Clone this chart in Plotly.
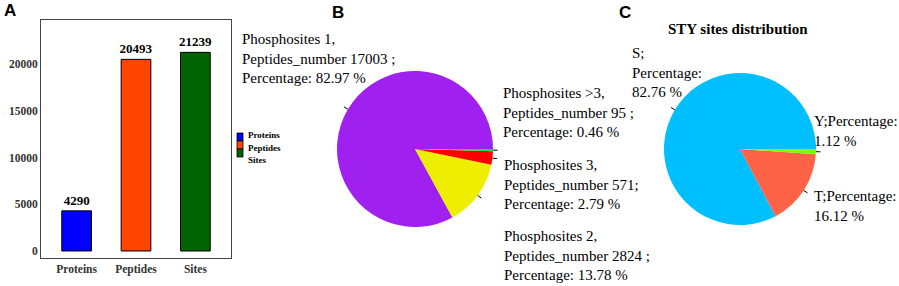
import numpy as np
import plotly.graph_objects as go

W, H = 899, 286

# ---------------- data ----------------
bar_categories = ["Proteins", "Peptides", "Sites"]
bar_values = [4290, 20493, 21239]
bar_colors = ["#0000FF", "#FF4500", "#006400"]
y_ticks = [0, 5000, 10000, 15000, 20000]

b_names = ["Phosphosites 1", "Phosphosites 2", "Phosphosites 3", "Phosphosites >3"]
b_counts = [17003, 2824, 571, 95]
b_percent = [82.97, 13.78, 2.79, 0.46]
b_colors = ["#A020F0", "#EEEE00", "#FF0000", "#22DD22"]
b_sep = [" ;", " ;", ";", " ;"]

c_names = ["S", "T", "Y"]
c_percent = [82.76, 16.12, 1.12]
c_colors = ["#00BFFF", "#FF6347", "#7CFC00"]
c_title = "STY sites distribution"

panel_letters = ["A", "B", "C"]

# ---------------- helpers (pixel -> paper) ----------------
def px(x):
    return x / W

def py(y):
    return 1 - y / H

SERIF = "Liberation Serif"
SANS = "Liberation Sans"

fig = go.Figure()

# ---------------- panel A: bars ----------------
for cat, val, col in zip(bar_categories, bar_values, bar_colors):
    fig.add_trace(go.Bar(
        x=[cat], y=[val], name=cat,
        marker=dict(color=col, line=dict(color="black", width=1)),
        width=0.5,
        text=[str(val)], textposition="outside", constraintext="none",
        textfont=dict(family=SERIF, size=13, color="black", weight="bold"),
        cliponaxis=False, showlegend=False,
        xaxis="x", yaxis="y",
    ))

fig.update_layout(
    barmode="overlay",
    xaxis=dict(domain=[px(41), px(231)], range=[-0.6, 2.6], type="category",
               categoryorder="array", categoryarray=bar_categories,
               showline=True, mirror=True, linecolor="#444", linewidth=1,
               showgrid=False, ticks="", zeroline=False,
               tickfont=dict(family=SERIF, size=11.5, color="#333", weight="bold")),
    yaxis=dict(domain=[py(258), py(20)], range=[-750, 24700],
               tickvals=y_ticks, ticktext=[str(t) for t in y_ticks],
               showline=True, mirror=True, linecolor="#444", linewidth=1,
               showgrid=False, ticks="", zeroline=False,
               tickfont=dict(family=SERIF, size=11.5, color="#333", weight="bold")),
)

shapes = []
annotations = []

# manual legend for panel A
key_top = 133
for i, (cat, col) in enumerate(zip(bar_categories, bar_colors)):
    y0 = key_top + i * 8
    shapes.append(dict(type="rect", xref="paper", yref="paper",
                       x0=px(237), x1=px(243), y0=py(y0), y1=py(y0 + 8),
                       fillcolor=col, line=dict(color="black", width=0.8)))
    annotations.append(dict(text=cat, xref="paper", yref="paper",
                            x=px(246), y=py(135 + i * 12.5), xanchor="left", yanchor="middle",
                            showarrow=False,
                            font=dict(family=SERIF, size=9, color="black", weight="bold")))

# ---------------- pies ----------------
def add_pie(values, colors, cx, cy, r):
    vals = np.asarray(values, dtype=float)
    # first slice starts at 3 o'clock and runs counterclockwise (as in R's pie())
    rot = 90 + 360 * (1 - vals[0] / vals.sum())
    fig.add_trace(go.Pie(
        values=values, sort=False, direction="counterclockwise", rotation=rot,
        marker=dict(colors=colors, line=dict(width=0)),
        textinfo="none", showlegend=False,
        domain=dict(x=[px(cx - r), px(cx + r)], y=[py(cy + r), py(cy - r)]),
    ))
    cum = np.cumsum(vals) - vals / 2
    ang = 2 * np.pi * cum / vals.sum()
    for a in ang:
        x0, y0 = cx + r * np.cos(a), cy - r * np.sin(a)
        x1, y1 = cx + 1.06 * r * np.cos(a), cy - 1.06 * r * np.sin(a)
        shapes.append(dict(type="line", xref="paper", yref="paper",
                           x0=px(x0), y0=py(y0), x1=px(x1), y1=py(y1),
                           line=dict(color="black", width=1)))

B_CX, B_CY, B_R = 415, 149, 78
C_CX, C_CY, C_R = 740, 149, 76
add_pie(b_counts, b_colors, B_CX, B_CY, B_R)
add_pie(c_percent, c_colors, C_CX, C_CY, C_R)

label_font = dict(family=SERIF, size=15, color="black")

b_label_pos = [(240, 58), (502, 255), (502, 184), (501, 112)]
for name, cnt, pct, sep, (lx, ly) in zip(b_names, b_counts, b_percent, b_sep, b_label_pos):
    txt = f"{name},<br>Peptides_number {cnt}{sep}<br>Percentage: {pct:.2f} %"
    annotations.append(dict(text=txt, xref="paper", yref="paper", x=px(lx), y=py(ly),
                            xanchor="left", yanchor="middle", align="left",
                            showarrow=False, font=label_font))

c_label_pos = [(630, 72), (812, 206), (812, 131)]
for i, (name, pct, (lx, ly)) in enumerate(zip(c_names, c_percent, c_label_pos)):
    if i == 0:
        txt = f"{name};<br>Percentage:<br>{pct:.2f} %"
    else:
        txt = f"{name};Percentage:<br>{pct:.2f} %"
    annotations.append(dict(text=txt, xref="paper", yref="paper", x=px(lx), y=py(ly),
                            xanchor="left", yanchor="middle", align="left",
                            showarrow=False, font=label_font))

annotations.append(dict(text=c_title, xref="paper", yref="paper", x=px(738), y=py(29),
                        xanchor="center", yanchor="middle", showarrow=False,
                        font=dict(family=SERIF, size=15, color="black", weight="bold")))

for letter, (lx, ly) in zip(panel_letters, [(2, 11), (330, 12), (617, 12)]):
    annotations.append(dict(text=letter, xref="paper", yref="paper", x=px(lx), y=py(ly),
                            xanchor="left", yanchor="middle", showarrow=False,
                            font=dict(family=SANS, size=17, color="black", weight="bold")))

fig.update_layout(
    width=W, height=H,
    margin=dict(l=0, r=0, t=0, b=0),
    paper_bgcolor="white", plot_bgcolor="white",
    shapes=shapes, annotations=annotations,
)

fig.write_html(
    "out.html",
    config={"displayModeBar": False},
    post_script="document.body.style.margin='0px';document.body.style.overflow='hidden';",
)
